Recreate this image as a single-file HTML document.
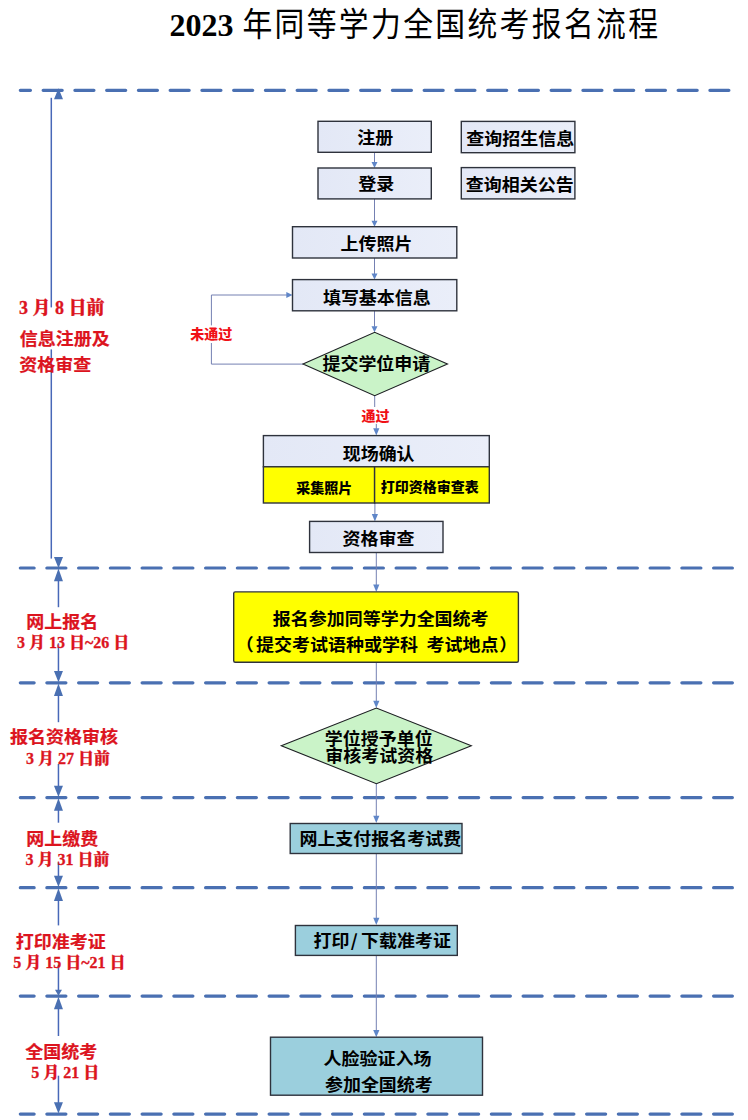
<!DOCTYPE html>
<html lang="zh-CN">
<head>
<meta charset="utf-8">
<title>2023 年同等学力全国统考报名流程</title>
<style>
html,body{margin:0;padding:0;background:#fff;}
body{width:748px;height:1120px;overflow:hidden;}
svg{display:block;}
text{white-space:pre;}
.b{font-weight:700;fill:#000;font-family:"Noto Sans CJK SC","Liberation Sans",sans-serif;}
.b9{font-weight:900;fill:#000;font-family:"Noto Sans CJK SC","Liberation Sans",sans-serif;}
.r{font-weight:700;fill:#dc141e;stroke:#dc141e;stroke-width:0.2px;font-family:"Noto Sans CJK SC","Liberation Sans",sans-serif;}
.d{font-weight:900;fill:#dc141e;stroke:#dc141e;stroke-width:0.3px;font-family:"Liberation Serif","Noto Serif CJK SC",serif;}
.r2{font-weight:900;fill:#f01016;font-family:"Noto Sans CJK SC","Liberation Sans",sans-serif;}
.tn{font-family:"Liberation Serif",serif;font-weight:700;fill:#000;}
.tc{font-family:"Noto Sans CJK SC",sans-serif;font-weight:400;fill:#000;}
.dl line{stroke:#4a70b2;stroke-width:3.2;stroke-linecap:round;stroke-dasharray:19.05 12.7;fill:none;}
.side line{stroke:#4868b8;stroke-width:1.5;}
.side polygon{fill:#4a70b2;}
.conn line,.conn polyline{stroke:#7480b2;stroke-width:1;fill:none;}
.conn polygon{fill:#5f86c8;}
.bx rect{stroke:#2e323c;stroke-width:1.4;}
.bx polygon{stroke:#1c1e22;stroke-width:1.1;}
</style>
</head>
<body>
<svg width="748" height="1120" viewBox="0 0 748 1120">
<defs><linearGradient id="bf" x1="0" y1="0" x2="1" y2="0"><stop offset="0" stop-color="#e3e8f6"/><stop offset="1" stop-color="#eaeef9"/></linearGradient></defs>
<rect width="748" height="1120" fill="#fff"/>
<g class="dl">
<line x1="20.3" y1="90.3" x2="728.9" y2="90.3" stroke-dashoffset="8.9"/>
<line x1="20.3" y1="568.0" x2="732.4" y2="568.0" stroke-dashoffset="5.2"/>
<line x1="20.3" y1="682.8" x2="732.4" y2="682.8" stroke-dashoffset="5.2"/>
<line x1="20.3" y1="797.6" x2="732.4" y2="797.6" stroke-dashoffset="5.2"/>
<line x1="20.3" y1="887.7" x2="732.4" y2="887.7" stroke-dashoffset="5.2"/>
<line x1="20.3" y1="996.1" x2="732.4" y2="996.1" stroke-dashoffset="5.2"/>
<line x1="20.3" y1="1114.1" x2="732.4" y2="1114.1" stroke-dashoffset="5.2"/>
</g>
<g class="side">
<line x1="51.3" y1="97.8" x2="51.3" y2="307.4"/>
<line x1="51.3" y1="349.4" x2="51.3" y2="558.6"/>
<polygon points="58.5,88.3 54,99.3 63,99.3"/>
<polygon points="58.5,568.3 54,557 63,557"/>
<polygon points="58.45,568.6 53.95,581.2 62.95,581.2"/>
<line x1="58.45" y1="580" x2="58.45" y2="607.2"/>
<line x1="58.45" y1="643.3" x2="58.45" y2="671.8"/>
<polygon points="58.45,682.2 53.95,670.9 62.95,670.9"/>
<polygon points="58.45,683.4 53.95,696 62.95,696"/>
<line x1="58.45" y1="694.8" x2="58.45" y2="722.2"/>
<line x1="58.45" y1="764" x2="58.45" y2="786.6"/>
<polygon points="58.45,797 53.95,785.7 62.95,785.7"/>
<polygon points="58.45,798.2 53.95,810.8 62.95,810.8"/>
<line x1="58.45" y1="809.6" x2="58.45" y2="822.7"/>
<line x1="58.45" y1="862.3" x2="58.45" y2="876.7"/>
<polygon points="58.45,887.1 53.95,875.8 62.95,875.8"/>
<polygon points="58.45,888.3 53.95,900.9 62.95,900.9"/>
<line x1="58.45" y1="899.7" x2="58.45" y2="925.4"/>
<line x1="58.45" y1="964.7" x2="58.45" y2="990.6"/>
<polygon points="58.45,995.8 54.95,989.8 61.95,989.8"/>
<polygon points="58.45,996.7 53.95,1009.3 62.95,1009.3"/>
<line x1="58.45" y1="1008.1" x2="58.45" y2="1036"/>
<line x1="58.45" y1="1075.7" x2="58.45" y2="1103.1"/>
<polygon points="58.45,1113.5 53.95,1102.2 62.95,1102.2"/>
</g>
<g class="conn">
<line x1="374.5" y1="152.3" x2="374.5" y2="162.5"/>
<polygon points="374.5,168 371.5,162 377.5,162"/>
<line x1="374.5" y1="198.9" x2="374.5" y2="221.2"/>
<polygon points="374.5,226.7 371.5,220.7 377.5,220.7"/>
<line x1="374.5" y1="258" x2="374.5" y2="274.1"/>
<polygon points="374.5,279.6 371.5,273.6 377.5,273.6"/>
<line x1="374.5" y1="310.8" x2="374.5" y2="326.8"/>
<polygon points="374.5,332.3 371.5,326.3 377.5,326.3"/>
<line x1="374.7" y1="395.7" x2="374.7" y2="407"/>
<line x1="376.3" y1="423.9" x2="376.3" y2="428.8"/>
<polygon points="376.3,435.6 373.2,428.3 379.4,428.3"/>
<line x1="374.9" y1="503" x2="374.9" y2="514.6"/>
<polygon points="374.9,521.4 371.8,514.1 378,514.1"/>
<line x1="376.3" y1="552.5" x2="376.3" y2="585.1"/>
<polygon points="376.3,591.9 373.2,584.6 379.4,584.6"/>
<line x1="376.3" y1="662.2" x2="376.3" y2="701.2"/>
<polygon points="376.3,708 373.2,700.7 379.4,700.7"/>
<line x1="376.3" y1="783.7" x2="376.3" y2="816.3"/>
<polygon points="376.3,823.1 373.2,815.8 379.4,815.8"/>
<line x1="376.3" y1="853.3" x2="376.3" y2="918.3"/>
<polygon points="376.3,925.1 373.2,917.8 379.4,917.8"/>
<line x1="376.3" y1="955.4" x2="376.3" y2="1030.4"/>
<polygon points="376.3,1037.2 373.2,1029.9 379.4,1029.9"/>
<polyline points="211.4,325.4 211.4,295 287.5,295"/>
<polyline points="211.4,343 211.4,364.1 303,364.1"/>
<polygon points="292.5,295 286.3,292 286.3,298"/>
</g>
<g class="bx">
<rect x="318" y="121.3" width="113.3" height="31" fill="url(#bf)"/>
<rect x="318" y="168" width="113.3" height="30.9" fill="url(#bf)"/>
<rect x="461.3" y="121.4" width="113.6" height="31.3" fill="url(#bf)"/>
<rect x="461.3" y="167.6" width="113.6" height="31.3" fill="url(#bf)"/>
<rect x="292.5" y="226.7" width="164.3" height="31.3" fill="url(#bf)"/>
<rect x="292.5" y="279.6" width="164.3" height="31.2" fill="url(#bf)"/>
<polygon fill="#caf3c8" points="303,364 374.7,332.3 447.5,364 374.7,395.7"/>
<rect x="263.4" y="435.6" width="225.9" height="31.2" fill="url(#bf)"/>
<rect x="263.4" y="466.8" width="111.2" height="36.2" fill="#ffff00"/>
<rect x="374.6" y="466.8" width="114.7" height="36.2" fill="#ffff00"/>
<rect x="309.6" y="521.4" width="133.4" height="31.1" fill="url(#bf)"/>
<rect x="233.7" y="591.9" width="284.7" height="70.3" fill="#ffff00" rx="1.5"/>
<polygon fill="#caf3c8" points="281.3,745.8 376.4,708 471.3,745.8 376.4,783.7"/>
<rect x="290.2" y="823.5" width="171.8" height="30" fill="#9bcfdd"/>
<rect x="295.4" y="925.5" width="161.9" height="29.9" fill="#9bcfdd"/>
<rect x="270.5" y="1037.2" width="212" height="58" fill="#9bcfdd"/>
</g>
<text x="169.5" y="35.8" font-size="32" class="tn">2023</text>
<text class="tc" transform="scale(0.89,1)" x="289.1 325.22 361.35 397.47 433.6 469.72 505.84 541.97 578.09 614.21 650.34 686.46 722.58" y="35.8" font-size="33.5" text-anchor="middle">年同等学力全国统考报名流程</text>
<text class="b" transform="translate(0,144) scale(1,0.95)" y="0" x="357.2" font-size="18">注册</text>
<text class="b" transform="translate(0,189.9) scale(1,0.95)" y="0" x="358.15" font-size="18">登录</text>
<text class="b" transform="translate(0,144.7) scale(1,0.95)" y="0" x="466.3" font-size="18">查询招生信息</text>
<text class="b" transform="translate(0,190.9) scale(1,0.95)" y="0" x="465.75" font-size="18">查询相关公告</text>
<text class="b" transform="translate(0,249.9) scale(1,0.95)" y="0" x="340.5" font-size="18">上传照片</text>
<text class="b" transform="translate(0,304.3) scale(1,0.95)" y="0" x="322.9" font-size="18">填写基本信息</text>
<text class="b" transform="translate(0,370) scale(1,0.95)" y="0" x="322.4" font-size="18">提交学位申请</text>
<text class="b" transform="translate(0,460.3) scale(1,0.95)" y="0" x="342.65" font-size="18">现场确认</text>
<text class="b9" transform="translate(0,492.9) scale(1,0.95)" y="0" x="296.2" font-size="14">采集照片</text>
<text class="b9" transform="translate(0,491.9) scale(1,0.95)" y="0" x="380.85" font-size="14">打印资格审查表</text>
<text class="b" transform="translate(0,544.7) scale(1,0.95)" y="0" x="342.6" font-size="18">资格审查</text>
<text class="b" transform="translate(0,625.1) scale(1,0.95)" y="0" x="272.7" font-size="18">报名参加同等学力全国统考</text>
<text class="b" transform="translate(0,651.1) scale(1,0.95)" y="0" font-size="18"><tspan x="235.8">（</tspan><tspan x="256.1">提交考试语种或学科 </tspan><tspan x="426.6">考试地点</tspan><tspan x="499.15">）</tspan></text>
<text class="b" transform="translate(0,744.6) scale(1,0.95)" y="0" x="324.75" font-size="18">学位授予单位</text>
<text class="b" transform="translate(0,762) scale(1,0.95)" y="0" x="325.25" font-size="18">审核考试资格</text>
<text class="b" transform="translate(0,845.2) scale(1,0.95)" y="0" x="299.4" font-size="18">网上支付报名考试费</text>
<text class="b" transform="translate(0,947.2) scale(1,0.95)" y="0" font-size="18"><tspan x="313.55">打印</tspan><tspan x="350.7">/ </tspan><tspan x="361">下载准考证</tspan></text>
<text class="b" transform="translate(0,1065) scale(1,0.95)" y="0" x="323.55" font-size="18">人脸验证入场</text>
<text class="b" transform="translate(0,1091.1) scale(1,0.95)" y="0" x="324.9" font-size="18">参加全国统考</text>
<text class="r2" transform="translate(0,339.4) scale(1,0.95)" y="0" x="190.35" font-size="14">未通过</text>
<text class="r2" transform="translate(0,420.7) scale(1,0.95)" y="0" x="361.55" font-size="14">通过</text>
<text class="d" y="313.5" x="18.95" font-size="18">3 月 8 日前</text>
<text class="r" transform="translate(0,344.8) scale(1,0.95)" y="0" x="19.85" font-size="18">信息注册及</text>
<text class="r" transform="translate(0,370.6) scale(1,0.95)" y="0" x="19.25" font-size="18">资格审查</text>
<text class="r" transform="translate(0,627.9) scale(1,0.95)" y="0" x="26.2" font-size="18">网上报名</text>
<text class="d" y="647.6" x="17.05" font-size="16">3 月 13 日~26 日</text>
<text class="r" transform="translate(0,743) scale(1,0.95)" y="0" x="10.1" font-size="18">报名资格审核</text>
<text class="d" y="763.7" x="26" font-size="16">3 月 27 日前</text>
<text class="r" transform="translate(0,844.5) scale(1,0.95)" y="0" x="26.3" font-size="18">网上缴费</text>
<text class="d" y="864.5" x="25.6" font-size="16">3 月 31 日前</text>
<text class="r" transform="translate(0,947.7) scale(1,0.95)" y="0" x="15.85" font-size="18">打印准考证</text>
<text class="d" y="967.7" x="13.15" font-size="16">5 月 15 日~21 日</text>
<text class="r" transform="translate(0,1058.1) scale(1,0.95)" y="0" x="25.25" font-size="18">全国统考</text>
<text class="d" y="1077.6" x="31.2" font-size="16">5 月 21 日</text>
</svg>
</body>
</html>
